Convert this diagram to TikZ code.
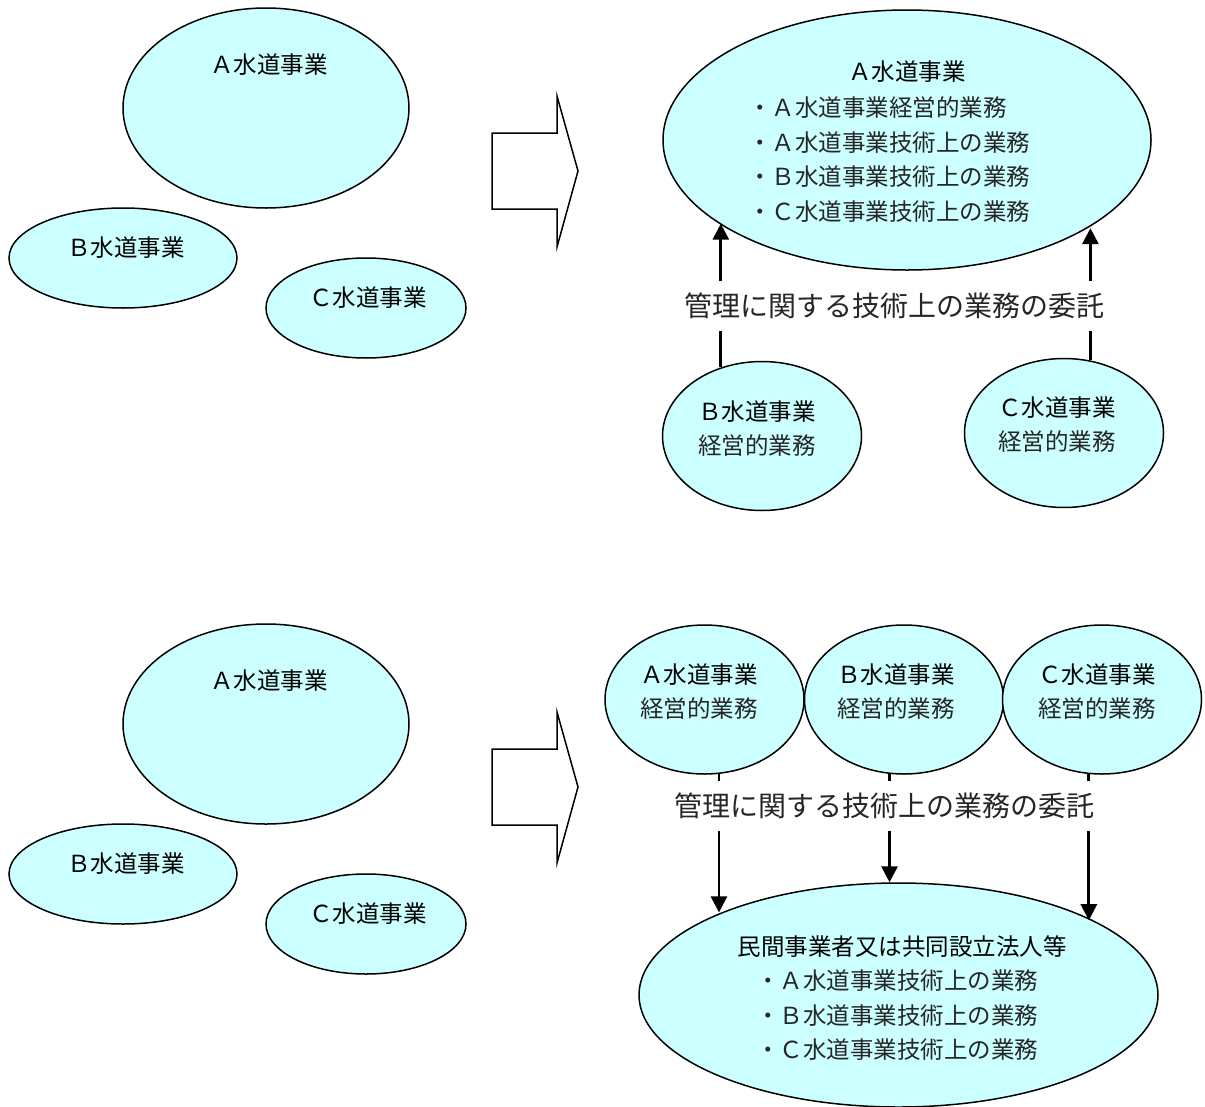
\documentclass[tikz,border=0pt]{standalone}
\usepackage{fontspec}
\newfontfamily\goth{Noto Sans CJK JP}
\newfontfamily\minc{Noto Sans CJK JP}
\usetikzlibrary{shapes.geometric,arrows.meta}
\definecolor{ellfill}{HTML}{CCFFFF}
\begin{document}
\begin{tikzpicture}[x=1pt,y=-1pt,
  ell/.style={ellipse,draw,line width=1.5pt,fill=ellfill,inner sep=0pt},
  ttl/.style={font=\goth\fontsize{23.5}{34.5}\selectfont,inner sep=0pt},
  bdy/.style={font=\minc\fontsize{23.5}{34.5}\selectfont,inner sep=0pt,text=black!85},
  pair/.style={align=center,inner sep=0pt,font=\fontsize{23.5}{34}\selectfont},
  conn/.style={line width=2.8pt,-{Triangle[width=16pt,length=16pt]}},
  blockarrow/.style={draw,line width=1.5pt,line join=miter},
  lbl/.style={font=\minc\fontsize{28}{34}\selectfont,fill=white,inner xsep=2pt,inner ysep=0pt,minimum height=50pt,text=black!85},
  small/.style={ell,minimum width=199pt,minimum height=149pt}]
\useasboundingbox (0,0) rectangle (1205,1106);

% ---------- top left group ----------
\node[ell,minimum width=286pt,minimum height=200pt] (tA) at (266,108) {};
\node[ttl] (tAt) at (269,65) {Ａ水道事業};
\node[ell,minimum width=228pt,minimum height=100pt] (tB) at (123,258) {};
\node[ttl] (tBt) at (126,248) {Ｂ水道事業};
\node[ell,minimum width=200pt,minimum height=100pt] (tC) at (366,308) {};
\node[ttl] (tCt) at (368,298) {Ｃ水道事業};

% ---------- block arrow top ----------
\draw[blockarrow] (492,133) -- (557,133) -- (557,96) -- (578,171) -- (557,247) -- (557,209) -- (492,209) -- cycle;

% ---------- top right ----------
\node[ell,minimum width=488pt,minimum height=260pt] (rA) at (907,140) {};
\node[ttl] (rAt) at (907,72) {Ａ水道事業};
\node[bdy,align=left,anchor=west] (rAb) at (748,159.5) {・Ａ水道事業経営的業務\\・Ａ水道事業技術上の業務\\・Ｂ水道事業技術上の業務\\・Ｃ水道事業技術上の業務};
\node[small] (rB) at (762,436) {};
\node[pair] (rBt) at (757,429) {{\goth Ｂ水道事業}\\{\color{black!85}\minc 経営的業務}};
\node[small] (rC) at (1064,433) {};
\node[pair] (rCt) at (1057,425) {{\goth Ｃ水道事業}\\{\color{black!85}\minc 経営的業務}};
\draw[conn] (rB.121.9) -- (rB.121.9 |- rA.204.07);
\draw[conn] (rC.70.9) -- (rC.70.9 |- rA.334.56);
\node[lbl] (rL) at (894.5,306) {管理に関する技術上の業務の委託};

% ---------- bottom left group ----------
\node[ell,minimum width=286pt,minimum height=200pt] (bA) at (266,724) {};
\node[ttl] (bAt) at (269,681) {Ａ水道事業};
\node[ell,minimum width=228pt,minimum height=100pt] (bB) at (123,874) {};
\node[ttl] (bBt) at (126,864) {Ｂ水道事業};
\node[ell,minimum width=200pt,minimum height=100pt] (bC) at (366,924) {};
\node[ttl] (bCt) at (368,914) {Ｃ水道事業};

% ---------- block arrow bottom ----------
\draw[blockarrow] (492,749) -- (557,749) -- (557,712) -- (578,787) -- (557,863) -- (557,825) -- (492,825) -- cycle;

% ---------- bottom right ----------
\node[small] (sA) at (704.5,699.5) {};
\node[small] (sB) at (904,699.5) {};
\node[small] (sC) at (1102,699.5) {};
\node[pair] (sAt) at (699,691.5) {{\goth Ａ水道事業}\\{\color{black!85}\minc 経営的業務}};
\node[pair] (sBt) at (896,691.5) {{\goth Ｂ水道事業}\\{\color{black!85}\minc 経営的業務}};
\node[pair] (sCt) at (1097,691.5) {{\goth Ｃ水道事業}\\{\color{black!85}\minc 経営的業務}};
\node[ell,minimum width=519pt,minimum height=224pt] (big) at (898.5,995) {};
\node[ttl] (bigt) at (902,947) {民間事業者又は共同設立法人等};
\node[bdy,align=left,anchor=west] (bigb) at (756,1015.5) {・Ａ水道事業技術上の業務\\・Ｂ水道事業技術上の業務\\・Ｃ水道事業技術上の業務};
\draw[conn] (sA.281.13) -- (sA.281.13 |- big.155.74);
\draw[conn] (sB.259.25) -- (sB.259.25 |- big.94.34);
\draw[conn] (sC.260.01) -- (sC.260.01 |- big.21.76);
\node[lbl] (sL) at (884.5,806) {管理に関する技術上の業務の委託};
\end{tikzpicture}
\end{document}
